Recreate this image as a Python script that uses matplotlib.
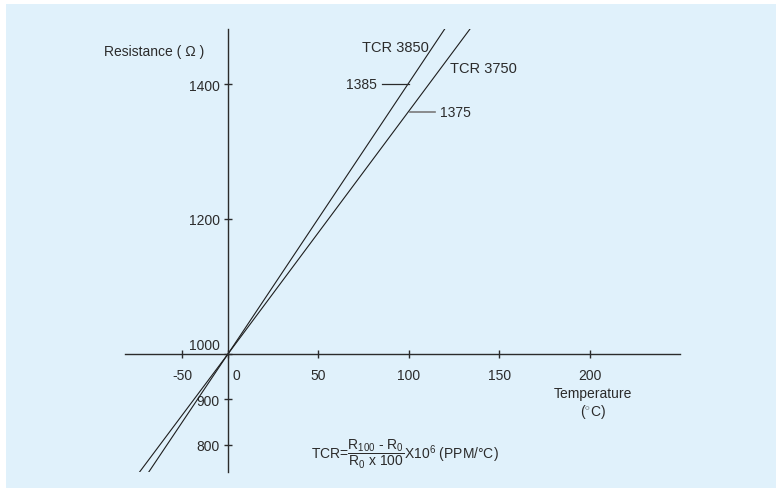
import numpy as np
import matplotlib
matplotlib.use("Agg")
import matplotlib.pyplot as plt
from matplotlib.patches import Rectangle
from matplotlib.transforms import ScaledTranslation

plt.rcParams['font.family'] = ['Liberation Sans', 'DejaVu Sans']
plt.rcParams['mathtext.fontset'] = 'custom'
plt.rcParams['mathtext.rm'] = 'Liberation Sans'
plt.rcParams['mathtext.it'] = 'Liberation Sans:italic'
plt.rcParams['mathtext.bf'] = 'Liberation Sans:bold'

# data
tcr3850_t = [-86, 0, 120]
tcr3850_r = [741, 1000, 1482]
tcr3750_t = [-96, 0, 134]
tcr3750_r = [741, 1000, 1482]
x_ticks = [-50, 0, 50, 100, 150, 200]
y_ticks = [800, 900, 1000, 1200, 1400]
mark_3850 = 1400   # where the "1385" leader meets the line
mark_3750 = 1358   # where the "1375" leader meets the line

BG = '#e0f1fb'
INK = '#2b2b2b'
W, H = 776, 489

# the negative side of both axes is drawn compressed
XNEG = 46 / 90.5
YNEG = 45.5 / 67.5


def fwd_x(t):
    t = np.asarray(t, dtype=float)
    return np.where(t < 0, t * XNEG, t)


def inv_x(s):
    s = np.asarray(s, dtype=float)
    return np.where(s < 0, s / XNEG, s)


def fwd_y(r):
    r = np.asarray(r, dtype=float)
    return np.where(r < 1000, 1000 + (r - 1000) * YNEG, r)


def inv_y(s):
    s = np.asarray(s, dtype=float)
    return np.where(s < 1000, 1000 + (s - 1000) / YNEG, s)


def px(x, y):
    return x / W, 1 - y / H


fig = plt.figure(figsize=(W / 100, H / 100), dpi=100)
fig.patch.set_facecolor('white')
fig.patches.append(Rectangle((6 / W, 0), 1 - 6 / W, 1 - 5 / H,
                             transform=fig.transFigure, facecolor=BG,
                             edgecolor='none', zorder=-5))

ax = fig.add_axes([125 / W, 16 / H, 555 / W, 443 / H])
ax.patch.set_visible(False)
ax.set_xscale('function', functions=(fwd_x, inv_x))
ax.set_yscale('function', functions=(fwd_y, inv_y))
ax.set_xlim(-112, 250)
ax.set_ylim(740.6, 1481.5)

for s in ['top', 'right']:
    ax.spines[s].set_visible(False)
ax.spines['left'].set_position(('data', 0))
ax.spines['bottom'].set_position(('data', 1000))
for s in ['left', 'bottom']:
    ax.spines[s].set_color(INK)
    ax.spines[s].set_linewidth(1.0)

ax.plot(tcr3850_t, tcr3850_r, color='#1e1e1e', lw=0.8)
ax.plot(tcr3750_t, tcr3750_r, color='#1e1e1e', lw=0.8)

ax.set_xticks(x_ticks)
ax.set_xticklabels([str(v) for v in x_ticks])
ax.set_yticks(y_ticks)
ax.set_yticklabels([str(v) for v in y_ticks])
ax.tick_params(direction='inout', length=6, width=1, color=INK,
               labelsize=10, labelcolor=INK)
ax.tick_params(axis='x', pad=7)
ax.tick_params(axis='y', pad=3)

# nudge the labels that sit on the crossing point
for lab in ax.get_xticklabels():
    if lab.get_text() == '0':
        lab.set_transform(lab.get_transform() + ScaledTranslation(8 / 100, 0, fig.dpi_scale_trans))
for lab in ax.get_yticklabels():
    if lab.get_text() == '1000':
        lab.set_transform(lab.get_transform() + ScaledTranslation(0, 10 / 100, fig.dpi_scale_trans))

# line names and leader labels
ax.text(92.8, 1455, 'TCR 3850', fontsize=10.5, color=INK, ha='center', va='center')
ax.text(141.4, 1424, 'TCR 3750', fontsize=10.5, color=INK, ha='center', va='center')
ax.plot([85, 100], [mark_3850, mark_3850], color=INK, lw=0.9)
ax.text(82.3, mark_3850, '1385', fontsize=10, color=INK, ha='right', va='center')
ax.plot([100.6, 114.4], [mark_3750, mark_3750], color='#7a7a7a', lw=1.2)
ax.text(117, mark_3750, '1375', fontsize=10, color=INK, ha='left', va='center')

fig.text(*px(154, 52), 'Resistance ( Ω )', fontsize=10, color=INK, ha='center', va='center')
fig.text(*px(593, 394), 'Temperature', fontsize=10, color=INK, ha='center', va='center')
fig.text(*px(593, 412), '($^{\\circ}$C)', fontsize=10, color=INK, ha='center', va='center')
fig.text(*px(405, 454),
         r'TCR=$\dfrac{\mathrm{R_{100}}\text{ - }\mathrm{R_0}}{\mathrm{R_0}\text{ x 100}}$X10$^6$ (PPM/°C)',
         fontsize=10, color=INK, ha='center', va='center')

fig.savefig('out.png', dpi=100, facecolor=fig.get_facecolor())
